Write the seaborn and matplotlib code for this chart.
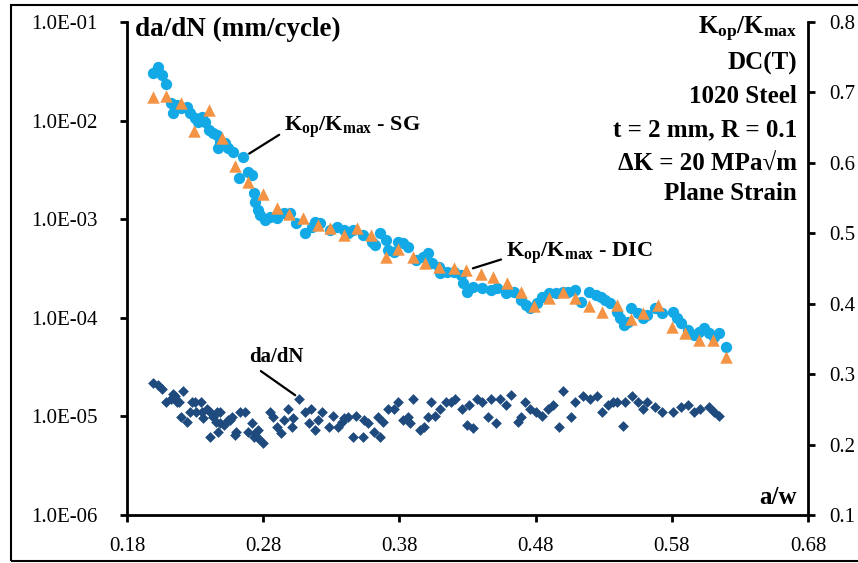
import numpy as np
import pandas as pd
import matplotlib
matplotlib.use("Agg")
import matplotlib.pyplot as plt
from matplotlib.patches import Rectangle
from matplotlib.ticker import FixedLocator, FuncFormatter
import seaborn as sns

# ---------------- data ----------------
sg_aw = [0.199, 0.203, 0.206, 0.209, 0.212, 0.214, 0.217, 0.220, 0.224, 0.226,
         0.230, 0.232, 0.235, 0.237, 0.240, 0.243, 0.246, 0.247, 0.248, 0.252,
         0.254, 0.258, 0.262, 0.265, 0.269, 0.272, 0.273, 0.274, 0.276, 0.278,
         0.281, 0.285, 0.290, 0.295, 0.300, 0.304, 0.311, 0.316, 0.318, 0.322,
         0.329, 0.334, 0.339, 0.342, 0.346, 0.353, 0.360, 0.362, 0.366, 0.370,
         0.372, 0.376, 0.379, 0.383, 0.386, 0.392, 0.397, 0.401, 0.404, 0.409,
         0.410, 0.415, 0.420, 0.425, 0.427, 0.430, 0.434, 0.441, 0.447, 0.452,
         0.458, 0.464, 0.469, 0.473, 0.476, 0.481, 0.485, 0.490, 0.495, 0.500,
         0.504, 0.509, 0.513, 0.519, 0.524, 0.528, 0.531, 0.535, 0.540, 0.542,
         0.545, 0.548, 0.550, 0.555, 0.559, 0.562, 0.568, 0.573, 0.581, 0.584,
         0.587, 0.592, 0.596, 0.600, 0.604, 0.607, 0.611, 0.615, 0.620]
sg_k = [0.728, 0.736, 0.725, 0.712, 0.685, 0.671, 0.682, 0.678, 0.679, 0.671,
        0.664, 0.658, 0.665, 0.658, 0.647, 0.642, 0.639, 0.621, 0.630, 0.628,
        0.621, 0.615, 0.578, 0.608, 0.587, 0.583, 0.557, 0.544, 0.533, 0.526,
        0.519, 0.523, 0.522, 0.529, 0.529, 0.514, 0.500, 0.509, 0.516, 0.514,
        0.505, 0.509, 0.505, 0.500, 0.505, 0.497, 0.488, 0.483, 0.500, 0.490,
        0.476, 0.473, 0.488, 0.486, 0.480, 0.462, 0.466, 0.472, 0.458, 0.452,
        0.443, 0.445, 0.445, 0.441, 0.429, 0.416, 0.424, 0.422, 0.419, 0.422,
        0.415, 0.416, 0.405, 0.398, 0.394, 0.401, 0.409, 0.415, 0.415, 0.416,
        0.416, 0.419, 0.402, 0.416, 0.412, 0.409, 0.405, 0.401, 0.388, 0.380,
        0.370, 0.374, 0.394, 0.387, 0.380, 0.384, 0.394, 0.387, 0.388, 0.380,
        0.372, 0.363, 0.355, 0.360, 0.365, 0.358, 0.353, 0.358, 0.338]

dic_aw = [0.199, 0.209, 0.220, 0.229, 0.240, 0.250, 0.259, 0.269, 0.280, 0.290,
          0.299, 0.309, 0.320, 0.329, 0.339, 0.349, 0.359, 0.370, 0.379, 0.390,
          0.399, 0.409, 0.420, 0.429, 0.440, 0.449, 0.459, 0.469, 0.479, 0.490,
          0.500, 0.509, 0.519, 0.529, 0.540, 0.550, 0.559, 0.570, 0.580, 0.590,
          0.600, 0.610, 0.620]
dic_k = [0.693, 0.695, 0.685, 0.645, 0.675, 0.635, 0.595, 0.573, 0.556, 0.536,
         0.527, 0.522, 0.512, 0.507, 0.497, 0.507, 0.497, 0.466, 0.478, 0.466,
         0.458, 0.452, 0.451, 0.448, 0.442, 0.438, 0.429, 0.416, 0.397, 0.408,
         0.416, 0.408, 0.397, 0.388, 0.398, 0.378, 0.387, 0.398, 0.367, 0.358,
         0.348, 0.348, 0.324]

dadn_aw = [0.199, 0.203, 0.206, 0.209, 0.212, 0.214, 0.215, 0.217, 0.218, 0.220,
           0.221, 0.224, 0.226, 0.228, 0.230, 0.231, 0.234, 0.235, 0.236, 0.239,
           0.241, 0.241, 0.243, 0.245, 0.246, 0.247, 0.248, 0.248, 0.251, 0.254,
           0.256, 0.257, 0.259, 0.260, 0.263, 0.267, 0.269, 0.272, 0.273, 0.274,
           0.276, 0.276, 0.280, 0.285, 0.287, 0.290, 0.293, 0.295, 0.298, 0.301,
           0.302, 0.306, 0.311, 0.314, 0.315, 0.318, 0.320, 0.323, 0.328, 0.331,
           0.335, 0.338, 0.339, 0.342, 0.346, 0.348, 0.353, 0.354, 0.357, 0.361,
           0.364, 0.366, 0.368, 0.372, 0.376, 0.379, 0.383, 0.386, 0.388, 0.390,
           0.395, 0.398, 0.401, 0.403, 0.406, 0.410, 0.414, 0.418, 0.421, 0.426,
           0.430, 0.431, 0.434, 0.437, 0.441, 0.445, 0.447, 0.451, 0.454, 0.458,
           0.462, 0.467, 0.469, 0.472, 0.476, 0.480, 0.485, 0.489, 0.493, 0.497,
           0.500, 0.506, 0.509, 0.515, 0.520, 0.525, 0.529, 0.533, 0.537, 0.540,
           0.544, 0.546, 0.551, 0.555, 0.559, 0.562, 0.568, 0.573, 0.581, 0.587,
           0.592, 0.596, 0.601, 0.607, 0.611, 0.615]
dadn = [2.2e-5, 2.1e-5, 1.9e-5, 1.4e-5, 1.5e-5, 1.7e-5, 1.6e-5, 1.4e-5, 1.4e-5, 9.9e-6,
        1.8e-5, 8.8e-6, 1.1e-5, 1.4e-5, 1.4e-5, 1.1e-5, 1.4e-5, 1.1e-5, 9.6e-6, 1.2e-5,
        1.1e-5, 6.2e-6, 9.9e-6, 8.8e-6, 1.1e-5, 7.0e-6, 1.1e-5, 8.6e-6, 8.2e-6, 9.2e-6,
        9.2e-6, 9.9e-6, 6.5e-6, 7.0e-6, 1.1e-5, 1.1e-5, 7.0e-6, 8.6e-6, 6.2e-6, 6.8e-6,
        6.0e-6, 7.3e-6, 5.4e-6, 1.1e-5, 9.9e-6, 7.8e-6, 6.8e-6, 9.2e-6, 1.2e-5, 7.8e-6,
        9.6e-6, 1.5e-5, 1.1e-5, 8.6e-6, 1.2e-5, 7.3e-6, 9.2e-6, 1.1e-5, 7.8e-6, 1.0e-5,
        7.8e-6, 8.8e-6, 9.6e-6, 9.9e-6, 6.2e-6, 1.0e-5, 6.2e-6, 9.2e-6, 8.6e-6, 7.0e-6,
        9.9e-6, 6.2e-6, 8.8e-6, 1.2e-5, 1.2e-5, 1.4e-5, 9.2e-6, 9.9e-6, 8.6e-6, 1.5e-5,
        7.3e-6, 7.8e-6, 9.9e-6, 1.4e-5, 1.0e-5, 1.2e-5, 1.4e-5, 1.4e-5, 1.5e-5, 1.2e-5,
        8.2e-6, 1.3e-5, 7.6e-6, 1.5e-5, 1.4e-5, 9.9e-6, 1.5e-5, 8.6e-6, 1.5e-5, 1.3e-5,
        1.65e-5, 8.8e-6, 9.9e-6, 1.4e-5, 1.2e-5, 1.1e-5, 1.0e-5, 1.2e-5, 1.3e-5, 7.8e-6,
        1.8e-5, 9.9e-6, 1.4e-5, 1.6e-5, 1.5e-5, 1.6e-5, 1.1e-5, 1.3e-5, 1.4e-5, 1.4e-5,
        8.0e-6, 1.4e-5, 1.6e-5, 1.4e-5, 1.2e-5, 1.4e-5, 1.25e-5, 1.1e-5, 1.1e-5, 1.25e-5,
        1.3e-5, 1.1e-5, 1.2e-5, 1.25e-5, 1.1e-5, 1.0e-5]

x_ticks = [0.18, 0.28, 0.38, 0.48, 0.58, 0.68]
left_ticks = [1e-6, 1e-5, 1e-4, 1e-3, 1e-2, 1e-1]
right_ticks = [0.1, 0.2, 0.3, 0.4, 0.5, 0.6, 0.7, 0.8]

info_lines = [r"$\mathbf{K_{op}/K_{max}}$", "DC(T)", "1020 Steel",
              "t = 2 mm, R = 0.1", "\u0394K = 20 MPa\u221am", "Plane Strain"]

# ---------------- style ----------------
sns.set_theme(style="ticks")
plt.rcParams["font.family"] = ["Liberation Serif", "DejaVu Serif"]
plt.rcParams["mathtext.fontset"] = "custom"
plt.rcParams["mathtext.rm"] = "Liberation Serif"
plt.rcParams["mathtext.bf"] = "Liberation Serif:bold"
plt.rcParams["mathtext.it"] = "Liberation Serif:italic"
plt.rcParams["text.color"] = "black"
plt.rcParams["axes.labelcolor"] = "black"
plt.rcParams["xtick.color"] = "black"
plt.rcParams["ytick.color"] = "black"

C_SG = "#12A9E6"
C_DIC = "#F39343"
C_DADN = "#1F4A7E"

fig = plt.figure(figsize=(8.58, 5.63), dpi=100)
ax = fig.add_axes([0.148, 0.0853, 0.7937, 0.8757])
ax2 = ax.twinx()

sns.scatterplot(x=dadn_aw, y=dadn, ax=ax, marker="D", s=30, color=C_DADN,
                linewidth=0, zorder=3)
sns.scatterplot(x=sg_aw, y=sg_k, ax=ax2, marker="o", s=66, color=C_SG,
                linewidth=0, zorder=3)
sns.scatterplot(x=dic_aw, y=dic_k, ax=ax2, marker="^", s=80, color=C_DIC,
                linewidth=0, zorder=4)

ax.set_yscale("log")
ax.set_xlim(0.18, 0.68)
ax.set_ylim(1e-6, 1e-1)
ax2.set_ylim(0.1, 0.8)

ax.xaxis.set_major_locator(FixedLocator(x_ticks))
ax.xaxis.set_major_formatter(FuncFormatter(lambda v, p: f"{v:.2f}"))
ax.yaxis.set_major_locator(FixedLocator(left_ticks))
ax.yaxis.set_minor_locator(FixedLocator([]))
ax.yaxis.set_major_formatter(FuncFormatter(lambda v, p: f"{v:.1E}"))
ax2.yaxis.set_major_locator(FixedLocator(right_ticks))
ax2.yaxis.set_major_formatter(FuncFormatter(lambda v, p: f"{v:.1f}"))

for a in (ax, ax2):
    a.set_xlabel("")
    a.set_ylabel("")
    a.spines["top"].set_visible(False)
    for sp in a.spines.values():
        sp.set_linewidth(2.0)
        sp.set_color("black")
    a.tick_params(axis="both", which="major", direction="out", length=5,
                  width=2.0, labelsize=15, colors="black")
    a.grid(False)
ax.spines["right"].set_visible(False)
ax2.spines["left"].set_visible(False)
ax2.spines["bottom"].set_visible(False)
ax.tick_params(axis="x", pad=11)
ax.tick_params(axis="y", pad=16)
ax2.tick_params(axis="y", pad=10)

# titles inside the plot
ax.text(0.012, 0.984, "da/dN (mm/cycle)", transform=ax.transAxes, ha="left",
        va="center", fontsize=19.5, fontweight="bold")
ax.text(0.984, 0.036, "a/w", transform=ax.transAxes, ha="right",
        va="center", fontsize=18, fontweight="bold")
info_y = [0.984, 0.915, 0.848, 0.781, 0.714, 0.653]
for s, yy in zip(info_lines, info_y):
    ax.text(0.984, yy, s, transform=ax.transAxes, ha="right", va="center",
            fontsize=18, fontweight="bold")

# annotations
ax2.annotate(r"$\mathbf{K_{op}/K_{max}}$ - SG", xy=(0.268, 0.611),
             xytext=(0.295, 0.651), ha="left", va="center", fontsize=16,
             fontweight="bold",
             arrowprops=dict(arrowstyle="-", lw=1.6, color="black",
                             relpos=(0, 0.3), shrinkA=1, shrinkB=2))
ax2.annotate(r"$\mathbf{K_{op}/K_{max}}$ - DIC", xy=(0.432, 0.449),
             xytext=(0.458, 0.472), ha="left", va="center", fontsize=16,
             fontweight="bold",
             arrowprops=dict(arrowstyle="-", lw=1.6, color="black",
                             relpos=(0, 0.3), shrinkA=1, shrinkB=2))
ax.annotate("da/dN", xy=(0.306, 1.55e-5), xytext=(0.290, 4.0e-5),
            ha="center", va="center", fontsize=15, fontweight="bold",
            arrowprops=dict(arrowstyle="-", lw=1.6, color="black",
                            relpos=(0.1, 0), shrinkA=1, shrinkB=3))

# outer frame
fig.patches.append(Rectangle((0.013, 0.004), 1.0, 0.988, transform=fig.transFigure,
                             fill=False, edgecolor="black", linewidth=1.5))

fig.savefig("out.png", dpi=100)
